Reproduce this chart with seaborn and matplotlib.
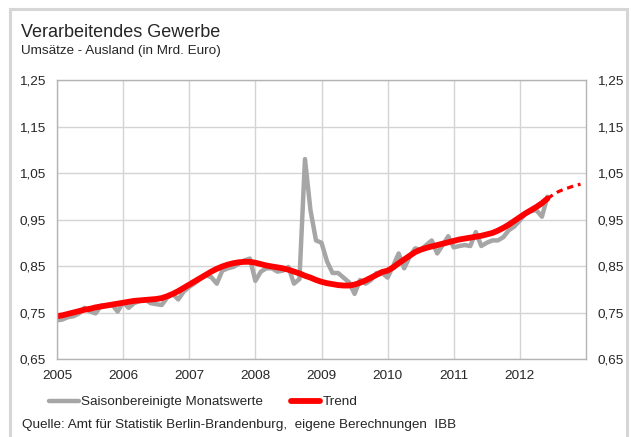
#
# Verarbeitendes Gewerbe - Umsaetze Ausland (in Mrd. Euro)
#
import numpy as np
import pandas as pd
import matplotlib
matplotlib.use("Agg")
import matplotlib.pyplot as plt
from matplotlib.patches import Rectangle
from matplotlib.ticker import FuncFormatter
import seaborn as sns

# ------------------------------------------------------------- #
# Data (monthly, Jan 2005 - Jun 2012)
#
start_year = 2005
monatswerte = [
    0.733, 0.735, 0.740, 0.742, 0.748, 0.760, 0.752, 0.748, 0.765, 0.765, 0.767, 0.752,  # 2005
    0.772, 0.760, 0.770, 0.775, 0.778, 0.770, 0.768, 0.766, 0.782, 0.790, 0.778, 0.795,  # 2006
    0.805, 0.813, 0.822, 0.830, 0.826, 0.812, 0.840, 0.845, 0.848, 0.855, 0.862, 0.866,  # 2007
    0.818, 0.838, 0.845, 0.845, 0.838, 0.840, 0.848, 0.812, 0.822, 1.080, 0.970, 0.905,  # 2008
    0.900, 0.860, 0.835, 0.835, 0.825, 0.815, 0.790, 0.820, 0.812, 0.820, 0.835, 0.835,  # 2009
    0.825, 0.850, 0.877, 0.845, 0.870, 0.888, 0.885, 0.895, 0.905, 0.877, 0.895, 0.914,  # 2010
    0.890, 0.893, 0.895, 0.893, 0.923, 0.893, 0.900, 0.905, 0.905, 0.912, 0.927, 0.935,  # 2011
    0.948, 0.963, 0.968, 0.970, 0.956, 0.999,                                            # 2012
]
trend = [
    0.742, 0.744, 0.747, 0.750, 0.753, 0.756, 0.758, 0.761, 0.763, 0.765, 0.767, 0.769,  # 2005
    0.771, 0.773, 0.775, 0.776, 0.777, 0.778, 0.779, 0.781, 0.785, 0.790, 0.796, 0.803,  # 2006
    0.810, 0.817, 0.824, 0.831, 0.838, 0.844, 0.849, 0.853, 0.856, 0.858, 0.859, 0.859,  # 2007
    0.857, 0.854, 0.851, 0.849, 0.847, 0.845, 0.842, 0.838, 0.834, 0.829, 0.825, 0.820,  # 2008
    0.816, 0.813, 0.811, 0.809, 0.808, 0.808, 0.810, 0.814, 0.819, 0.825, 0.831, 0.837,  # 2009
    0.840, 0.847, 0.856, 0.864, 0.872, 0.880, 0.885, 0.889, 0.892, 0.895, 0.898, 0.901,  # 2010
    0.904, 0.907, 0.909, 0.911, 0.913, 0.915, 0.918, 0.921, 0.926, 0.932, 0.939, 0.947,  # 2011
    0.955, 0.963, 0.970, 0.977, 0.985, 0.995,                                            # 2012
]
# trend projection Jun - Dec 2012 (dashed)
prognose = [0.995, 1.003, 1.010, 1.015, 1.019, 1.023, 1.026]
prognose_start = 89  # month index of Jun 2012

year_ticks = [2005, 2006, 2007, 2008, 2009, 2010, 2011, 2012]
y_ticks = [0.65, 0.75, 0.85, 0.95, 1.05, 1.15, 1.25]

titel = "Verarbeitendes Gewerbe"
untertitel = "Umsätze - Ausland (in Mrd. Euro)"
quelle = "Quelle: Amt für Statistik Berlin-Brandenburg,  eigene Berechnungen  IBB"
lbl_monat = "Saisonbereinigte Monatswerte"
lbl_trend = "Trend"

# ------------------------------------------------------------- #
# Build frames
#
n = len(monatswerte)
df = pd.DataFrame({
    "x": start_year + np.arange(n) / 12.0,
    "monat": monatswerte,
    "trend": trend,
})
df_p = pd.DataFrame({
    "x": start_year + (prognose_start + np.arange(len(prognose))) / 12.0,
    "wert": prognose,
})

# ------------------------------------------------------------- #
# Plot
#
sns.set_style("white")
plt.rcParams["font.family"] = ["Liberation Sans", "DejaVu Sans"]

W, H = 631, 437
fs = 9.7
fig = plt.figure(figsize=(W / 100, H / 100), dpi=100)
ax = fig.add_axes([57 / W, 1 - 359 / H, (586 - 57) / W, (359 - 80) / H])

grau = "#a6a6a6"
rot = "#ff0000"

sns.lineplot(data=df, x="x", y="monat", ax=ax, color=grau, linewidth=3.2,
             label=lbl_monat, solid_capstyle="round", solid_joinstyle="round")
sns.lineplot(data=df, x="x", y="trend", ax=ax, color=rot, linewidth=4.2,
             label=lbl_trend, solid_capstyle="round")
sns.lineplot(data=df_p, x="x", y="wert", ax=ax, color=rot, linewidth=2.3,
             dashes=False, linestyle=(0, (2.0, 1.5)))

ax.set_xlim(2005, 2013)
ax.set_ylim(0.65, 1.25)
ax.set_xticks(year_ticks)
ax.set_yticks(y_ticks)
ax.yaxis.set_major_formatter(FuncFormatter(lambda v, p: f"{v:.2f}".replace(".", ",")))
ax.set_xlabel("")
ax.set_ylabel("")
ax.grid(True, color="#d4d4d4", linewidth=1.0)
ax.set_axisbelow(True)
for s in ax.spines.values():
    s.set_color("#b4b4b4")
    s.set_linewidth(1.0)
ax.tick_params(axis="y", length=0, labelsize=fs, pad=8, labelright=True)
ax.tick_params(axis="x", length=0, labelsize=fs, pad=8)

# Legend (without dashed projection)
h, l = ax.get_legend_handles_labels()
ax.legend(h[:2], l[:2], loc="center left", bbox_to_anchor=(49 / W, 1 - 402 / H),
          bbox_transform=fig.transFigure, ncol=2, frameon=False, fontsize=fs,
          handlelength=2.2, handletextpad=0.15, columnspacing=2.1, borderpad=0,
          borderaxespad=0)

# Titles and source
fig.text(21 / W, 1 - 37 / H, titel, fontsize=13, va="baseline", ha="left")
fig.text(21 / W, 1 - 54 / H, untertitel, fontsize=fs, va="baseline", ha="left")
fig.text(22 / W, 1 - 428 / H, quelle, fontsize=fs, va="baseline", ha="left")

# Outer frame
fig.patches.append(Rectangle((10 / W, -0.05), (627 - 10) / W, 1.05 - 9 / H,
                             transform=fig.transFigure, fill=False,
                             edgecolor="#d6d6d6", linewidth=2.2))

fig.savefig("out.png", dpi=100)
